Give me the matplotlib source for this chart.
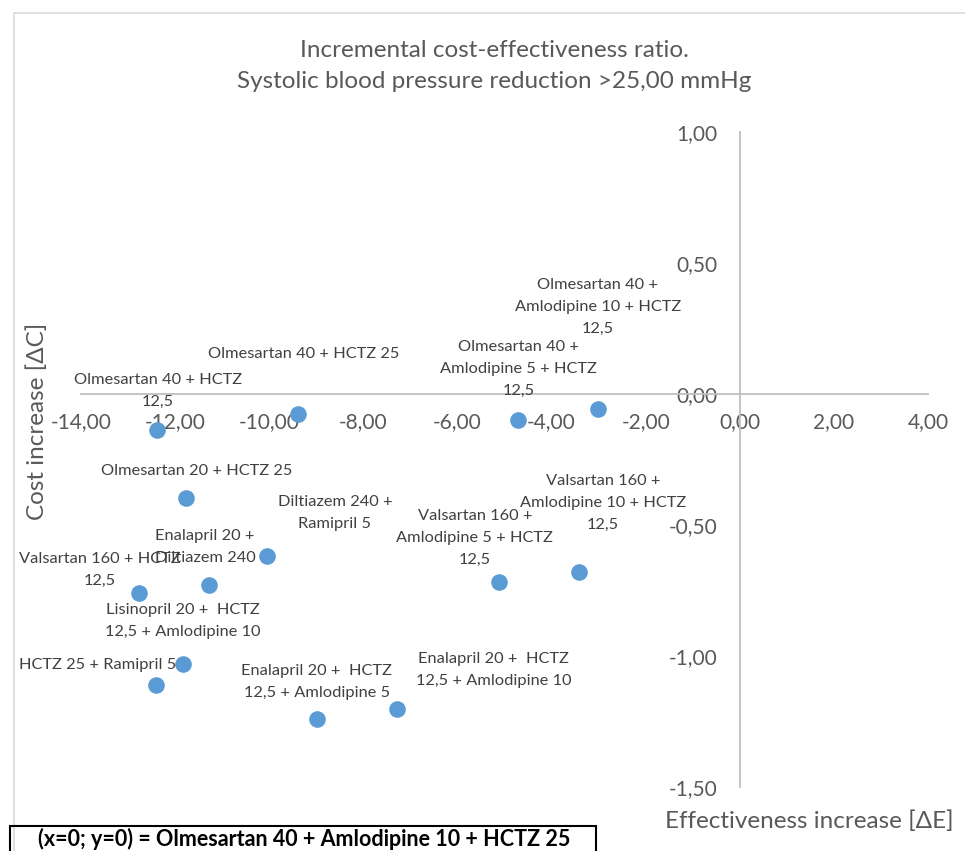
import matplotlib
matplotlib.use("Agg")
import matplotlib.pyplot as plt
from matplotlib.ticker import FuncFormatter, MultipleLocator
from matplotlib.patches import Rectangle

# ICER plane: effectiveness increase vs cost increase for each combination
names = [
    "Olmesartan 40 +\nAmlodipine 10 + HCTZ\n12,5",
    "Olmesartan 40 +\nAmlodipine 5 + HCTZ\n12,5",
    "Olmesartan 40 + HCTZ 25",
    "Olmesartan 40 + HCTZ\n12,5",
    "Olmesartan 20 + HCTZ 25",
    "Diltiazem 240 +\nRamipril 5",
    "Enalapril 20 +\nDiltiazem 240",
    "Valsartan 160 + HCTZ\n12,5",
    "Valsartan 160 +\nAmlodipine 10 + HCTZ\n12,5",
    "Valsartan 160 +\nAmlodipine 5 + HCTZ\n12,5",
    "Lisinopril 20 +  HCTZ\n12,5 + Amlodipine 10",
    "HCTZ 25 + Ramipril 5",
    "Enalapril 20 +  HCTZ\n12,5 + Amlodipine 5",
    "Enalapril 20 +  HCTZ\n12,5 + Amlodipine 10",
]
delta_e = [-3.02, -4.72, -9.39, -12.39, -11.77, -10.05, -11.28,
           -12.77, -3.42, -5.12, -11.84, -12.41, -8.99, -7.29]
delta_c = [-0.057, -0.099, -0.076, -0.137, -0.397, -0.618, -0.729,
           -0.760, -0.679, -0.718, -1.031, -1.111, -1.240, -1.202]

# where each data label sits relative to its point (pixels, up is positive)
label_offsets = [(0, 102), (1, 51), (6, 60), (1, 39), (11, 27), (68, 43),
                 (-4, 38), (-39, 23), (24, 69), (-24, 44), (0, 43),
                 (-58, 20), (0, 37), (97, 39)]

title = "Incremental cost-effectiveness ratio.\nSystolic blood pressure reduction >25,00 mmHg"
note = "(x=0; y=0) = Olmesartan 40 + Amlodipine 10 + HCTZ 25"

FONT = ["Lato", "DejaVu Sans"]
plt.rcParams["font.family"] = FONT
GREY = "#595959"
W, H = 965, 851

fig = plt.figure(figsize=(W / 100, H / 100), dpi=100)
ax = fig.add_axes([81 / W, 1 - 787 / H, 847 / W, 655 / H])

ax.scatter(delta_e, delta_c, s=120, color="#5B9BD5", zorder=3, clip_on=False)

for name, x, y, off in zip(names, delta_e, delta_c, label_offsets):
    ax.annotate(name, (x, y), xytext=off, textcoords="offset pixels",
                ha="center", va="center", fontsize=11.8, color="#404040",
                linespacing=1.72, zorder=4, annotation_clip=False)

ax.set_xlim(-14, 4)
ax.set_ylim(-1.5, 1.0)
ax.xaxis.set_major_locator(MultipleLocator(2))
ax.yaxis.set_major_locator(MultipleLocator(0.5))
fmt = FuncFormatter(lambda v, p: f"{v:.2f}".replace(".", ","))
ax.xaxis.set_major_formatter(fmt)
ax.yaxis.set_major_formatter(fmt)

for side in ["top", "right"]:
    ax.spines[side].set_visible(False)
for side in ["left", "bottom"]:
    ax.spines[side].set_position(("data", 0))
    ax.spines[side].set_color("#BFBFBF")
    ax.spines[side].set_linewidth(1.3)
ax.tick_params(axis="x", length=0, pad=13, labelsize=15, labelcolor=GREY)
ax.tick_params(axis="y", length=0, pad=16, labelsize=15, labelcolor=GREY)
ax.patch.set_alpha(0)

fig.text(494 / W, 1 - 66 / H, title, ha="center", va="center",
         fontsize=17.5, color=GREY, linespacing=1.6)
fig.text(37 / W, 1 - 421 / H, "Cost increase [ΔC]", rotation=90,
         ha="center", va="center", fontsize=17.5, color=GREY)
fig.text(809 / W, 1 - 821 / H, "Effectiveness increase [ΔE]",
         ha="center", va="center", fontsize=17.5, color=GREY)

# chart frame and the reference-point note box
fig.patches.append(Rectangle((14 / W, -0.1), 1.1, 1 - 13 / H + 0.1,
                             transform=fig.transFigure, fill=False,
                             edgecolor="#D9D9D9", linewidth=1.2))
fig.patches.append(Rectangle((10 / W, -0.1), 586 / W, 1 - 826 / H + 0.1,
                             transform=fig.transFigure, fill=False,
                             edgecolor="black", linewidth=1.5))
fig.text(304 / W, 1 - 839 / H, note, ha="center", va="center",
         fontsize=15.5, fontweight="bold", color="black")

fig.savefig("out.png", dpi=100)
